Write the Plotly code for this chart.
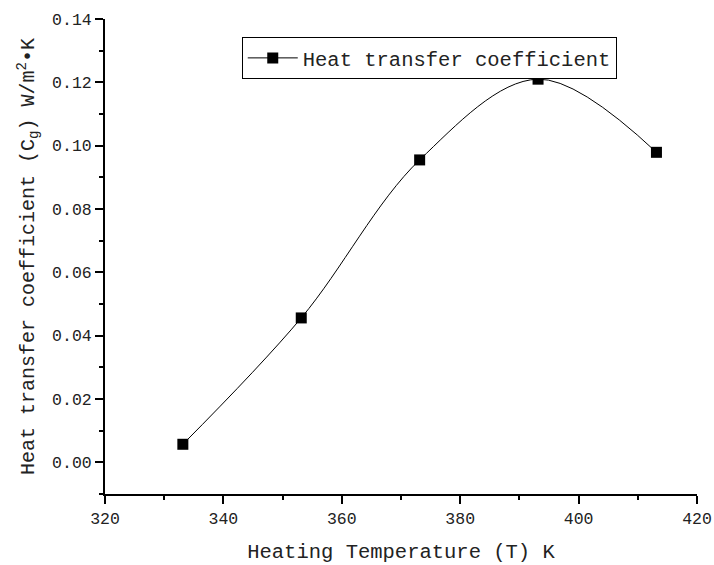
import plotly.graph_objects as go

# Heating temperature (K) and measured heat transfer coefficient
temperature_k = [333.15, 353.15, 373.15, 393.15, 413.15]
heat_coeff = [0.0057, 0.0456, 0.0955, 0.1210, 0.0979]

x_ticks = [320, 340, 360, 380, 400, 420]
y_ticks = [0.00, 0.02, 0.04, 0.06, 0.08, 0.10, 0.12, 0.14]

FONT = "Liberation Mono"

fig = go.Figure()
fig.add_trace(go.Scatter(
    x=temperature_k,
    y=heat_coeff,
    mode="lines+markers",
    name="Heat transfer coefficient",
    line=dict(color="black", width=1, shape="spline", smoothing=1.0),
    marker=dict(symbol="square", size=11, color="black"),
))

axis_common = dict(
    showgrid=False,
    zeroline=False,
    showline=True,
    linecolor="black",
    linewidth=2,
    ticks="outside",
    tickcolor="black",
    tickwidth=2,
    ticklen=8,
    mirror=False,
    automargin=False,
    tickfont=dict(family=FONT, size=16.5, color="#222"),
)

fig.update_xaxes(
    range=[320, 420],
    tickvals=x_ticks,
    ticktext=[str(v) for v in x_ticks],
    minor=dict(dtick=10, tick0=320, ticks="outside", ticklen=4,
               tickwidth=2, tickcolor="black"),
    title=dict(text="Heating Temperature (T) K",
               font=dict(family=FONT, size=20.5, color="#222"), standoff=16),
    **axis_common,
)
fig.update_yaxes(
    range=[-0.01, 0.14],
    tickvals=y_ticks,
    ticktext=[f"{v:.2f}" for v in y_ticks],
    minor=dict(dtick=0.01, tick0=0, ticks="outside", ticklen=4,
               tickwidth=2, tickcolor="black"),
    title=dict(text="Heat transfer coefficient (C<sub>g</sub>) W/m<sup>2</sup>•K",
               font=dict(family=FONT, size=20, color="#222"), standoff=12),
    **axis_common,
)

fig.update_layout(
    width=714,
    height=565,
    margin=dict(l=105, r=17, t=19, b=71),
    paper_bgcolor="white",
    plot_bgcolor="white",
    showlegend=True,
    legend=dict(
        x=0.231, y=0.962, xanchor="left", yanchor="top",
        bgcolor="white", bordercolor="black", borderwidth=1,
        font=dict(family=FONT, size=20.5, color="#222"),
        itemwidth=50,
        tracegroupgap=0,
    ),
)

fig.write_html("out.html")
